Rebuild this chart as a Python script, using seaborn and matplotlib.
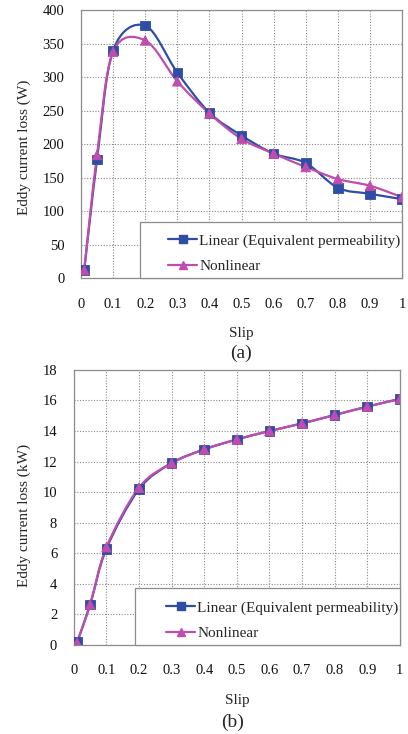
import numpy as np
import pandas as pd
import matplotlib
matplotlib.use("Agg")
import matplotlib.pyplot as plt
import seaborn as sns
from matplotlib.path import Path
from matplotlib.patches import PathPatch, Rectangle
from matplotlib.lines import Line2D

# Slip values and eddy current loss
slip = [0.01, 0.05, 0.1, 0.2, 0.3, 0.4, 0.5, 0.6, 0.7, 0.8, 0.9, 1.0]
loss_a_linear = [12, 177, 340, 377, 307, 247, 213, 186, 172, 135, 126, 118]
loss_a_nonlinear = [12, 184, 338, 355, 294, 246, 208, 186, 166, 148, 138, 121]
loss_b_linear = [0.2, 2.65, 6.3, 10.2, 11.9, 12.8, 13.45, 14.0, 14.5, 15.05, 15.6, 16.1]
loss_b_nonlinear = [0.15, 2.65, 6.4, 10.3, 11.9, 12.8, 13.45, 14.0, 14.5, 15.05, 15.6, 16.1]

series_names = ["Linear (Equivalent permeability)", "Nonlinear"]
xtick_labels = ["0", "0.1", "0.2", "0.3", "0.4", "0.5", "0.6", "0.7", "0.8", "0.9", "1"]

colors = {"Linear (Equivalent permeability)": "#2E4EA6", "Nonlinear": "#C04CAE"}
markers = {"Linear (Equivalent permeability)": "s", "Nonlinear": "^"}

sns.set_theme(style="white")
plt.rcParams["font.family"] = ["Liberation Serif", "DejaVu Serif"]


# smoothed line like the spreadsheet "smoothed line" option (Bezier through the points)
def smooth_path(x, y):
    pts = np.column_stack([x, y]).astype(float)
    n = len(pts)
    verts = [pts[0]]
    codes = [Path.MOVETO]
    for i in range(n - 1):
        p0 = pts[i - 1] if i > 0 else pts[i]
        p1 = pts[i]
        p2 = pts[i + 1]
        p3 = pts[i + 2] if i + 2 < n else pts[i + 1]
        verts += [p1 + (p2 - p0) / 6, p2 - (p3 - p1) / 6, p2]
        codes += [Path.CURVE4] * 3
    return Path(verts, codes)


def draw_panel(ax, lin, nonlin, yticks, ylabel, ylabel_x, ylabel_y, leg_x0, leg_h):
    df = pd.DataFrame({
        "Slip": slip * 2,
        "Loss": lin + nonlin,
        "Model": [series_names[0]] * len(slip) + [series_names[1]] * len(slip),
    })
    for name in series_names:
        sub = df[df["Model"] == name]
        ax.add_patch(PathPatch(smooth_path(sub["Slip"], sub["Loss"]), facecolor="none",
                               edgecolor=colors[name], lw=1.6, zorder=3))
    sns.scatterplot(data=df, x="Slip", y="Loss", hue="Model", style="Model",
                    palette=colors, markers=markers, s=48, linewidth=0.6,
                    legend=False, ax=ax, zorder=4)
    for c in ax.collections:
        c.set_edgecolor(c.get_facecolor())

    ax.set_xlim(0, 1)
    ax.set_ylim(yticks[0], yticks[-1])
    ax.set_xticks(np.arange(0, 1.01, 0.1))
    ax.set_xticklabels(xtick_labels)
    ax.set_yticks(yticks)
    ax.tick_params(axis="y", length=0, pad=12, labelsize=10.5, colors="#111111")
    ax.tick_params(axis="x", length=0, pad=14, labelsize=10.5, colors="#111111")
    ax.grid(True, color="#8a8a8a", linestyle=(0, (1, 1.5)), lw=0.8)
    for sp in ax.spines.values():
        sp.set_color("#8c8c8c")
        sp.set_linewidth(0.9)
    ax.set_xlabel("Slip", fontsize=11, labelpad=12)
    ax.set_ylabel(ylabel, fontsize=11)
    ax.yaxis.set_label_coords(ylabel_x, ylabel_y)

    # legend box: white frame in the lower right corner, entries right-aligned
    ax.add_patch(Rectangle((leg_x0, 0), 1 - leg_x0, leg_h, transform=ax.transAxes,
                           facecolor="white", edgecolor="#8c8c8c", lw=0.9,
                           zorder=4.5, clip_on=False))
    handles = [Line2D([0], [0], color=colors[n], marker=markers[n], markersize=6,
                      lw=1.6, markeredgecolor=colors[n]) for n in series_names]
    leg = ax.legend(handles, series_names, loc="lower right",
                    bbox_to_anchor=(1.0, 0.012), borderaxespad=0, fontsize=11,
                    frameon=False, handlelength=1.9, handletextpad=0.12,
                    labelspacing=0.78, borderpad=0.1)
    leg.set_zorder(5)


fig = plt.figure(figsize=(4.08, 7.34), dpi=100)
ax_a = fig.add_axes([0.1985, 0.621, 0.787, 0.365])
ax_b = fig.add_axes([0.181, 0.1213, 0.799, 0.3747])

draw_panel(ax_a, loss_a_linear, loss_a_nonlinear, np.arange(0, 401, 50),
           "Eddy current loss (W)", -0.156, 0.49, 0.184, 0.209)
draw_panel(ax_b, loss_b_linear, loss_b_nonlinear, np.arange(0, 19, 2),
           "Eddy current loss (kW)", -0.132, 0.47, 0.187, 0.207)

fig.text(241 / 408, 1 - 353 / 734, "(a)", ha="center", va="center", fontsize=14)
fig.text(233 / 408, 1 - 722 / 734, "(b)", ha="center", va="center", fontsize=14)

fig.savefig("out.png", dpi=100, facecolor="white")
plt.close(fig)
